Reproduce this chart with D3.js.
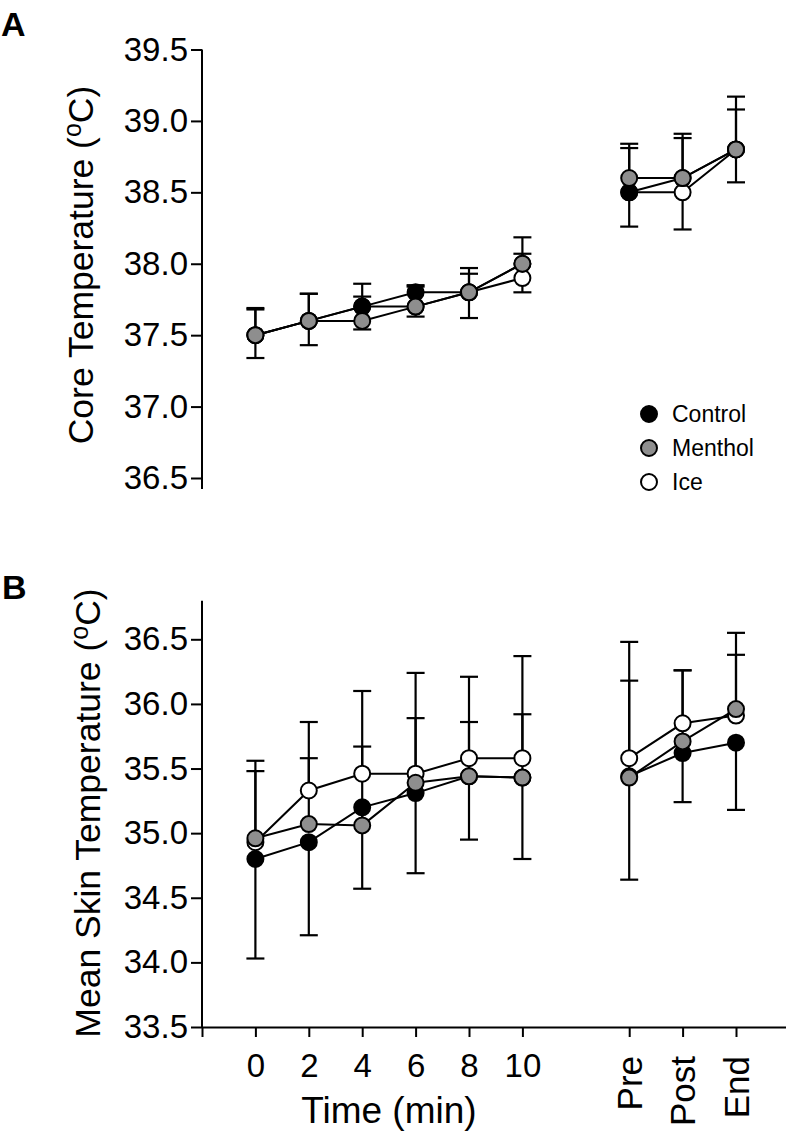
<!DOCTYPE html>
<html><head><meta charset="utf-8">
<script src="https://cdn.jsdelivr.net/npm/d3@7"></script>
<style>
body{margin:0;background:#fff}
svg{display:block}
text{font-family:"Liberation Sans",Arial,Helvetica,sans-serif;fill:#000}
</style>
</head><body>
<svg id="c" width="786" height="1140"></svg>
<script>
// ---- data ----
const timeLabels = ['0','2','4','6','8','10','Pre','Post','End'];
const seriesNames = ['Control','Menthol','Ice'];
const seriesFill = ['#000000','#8e8e8e','#ffffff'];
const errDirection = ['below','above','above'];

const coreTicks = [36.5,37.0,37.5,38.0,38.5,39.0,39.5];
const coreControl    = [37.5,37.6,37.7,37.8,37.8,38.0,38.5,38.6,38.8];
const coreControlSD  = [0.16,0.17,0.16,0.17,0.18,0.20,0.24,0.36,0.23];
const coreMenthol    = [37.5,37.6,37.6,37.7,37.8,38.0,38.6,38.6,38.8];
const coreMentholSD  = [0.19,0.19,0.17,0.14,0.13,0.185,0.21,0.28,0.28];
const coreIce        = [37.5,37.6,37.7,37.7,37.8,37.9,38.5,38.5,38.8];
const coreIceSD      = [0.18,0.19,0.16,0.15,0.17,0.17,0.34,0.41,0.37];

const skinTicks = [33.5,34.0,34.5,35.0,35.5,36.0,36.5];
const skinControl    = [34.80,34.93,35.20,35.31,35.44,35.43,35.44,35.62,35.70];
const skinControlSD  = [0.77,0.72,0.63,0.62,0.49,0.63,0.80,0.38,0.52];
const skinMenthol    = [34.96,35.07,35.06,35.39,35.44,35.43,35.43,35.71,35.96];
const skinMentholSD  = [0.52,0.51,0.61,0.50,0.42,0.49,0.75,0.55,0.42];
const skinIce        = [34.93,35.33,35.46,35.46,35.58,35.58,35.58,35.85,35.91];
const skinIceSD      = [0.63,0.53,0.64,0.78,0.63,0.79,0.90,0.41,0.64];

// ---- layout ----
const svg = d3.select('#c');
const slot = i => (i < 6 ? i : i + 1);           // gap between "10" and "Pre"
const x = d3.scaleLinear().domain([-1, 10]).range([202, 789.4]);
const yA = d3.scaleLinear().domain([36.5, 39.5]).range([478, 49.5]);
const yB = d3.scaleLinear().domain([33.5, 36.5]).range([1027, 639.3]);
const R = 8, CAP = 9;

function drawPanel(y, ticks, means, sds, axisTop, axisBottom) {
  const g = svg.append('g');
  const ax = g.append('g').attr('transform', 'translate(202,0)')
    .call(d3.axisLeft(y).tickValues(ticks).tickSize(11).tickPadding(3).tickFormat(d3.format('.1f')));
  ax.select('.domain').remove();
  ax.selectAll('line').attr('stroke', '#000').attr('stroke-width', 2);
  ax.selectAll('text').attr('font-size', 33).attr('fill', '#000');
  ax.append('line').attr('x1', 0).attr('x2', 0).attr('y1', axisTop).attr('y2', axisBottom)
    .attr('stroke', '#000').attr('stroke-width', 2);

  const order = [2, 0, 1]; // Ice, Control, Menthol drawing order
  order.forEach(s => {
    means[s].forEach((m, i) => {
      const cx = x(slot(i));
      const end = errDirection[s] === 'below' ? m - sds[s][i] : m + sds[s][i];
      g.append('line').attr('x1', cx).attr('x2', cx).attr('y1', y(m)).attr('y2', y(end))
        .attr('stroke', '#000').attr('stroke-width', 2.2);
      g.append('line').attr('x1', cx - CAP).attr('x2', cx + CAP).attr('y1', y(end)).attr('y2', y(end))
        .attr('stroke', '#000').attr('stroke-width', 2.2);
    });
  });
  const line = d3.line().x(d => x(slot(d.i))).y(d => y(d.v));
  order.forEach(s => {
    const pts = means[s].map((v, i) => ({ i, v }));
    [pts.slice(0, 6), pts.slice(6)].forEach(seg => {
      g.append('path').attr('d', line(seg)).attr('fill', 'none')
        .attr('stroke', '#000').attr('stroke-width', 2);
    });
  });
  order.forEach(s => {
    g.append('g').selectAll('circle').data(means[s]).join('circle')
      .attr('cx', (d, i) => x(slot(i))).attr('cy', d => y(d)).attr('r', R)
      .attr('fill', seriesFill[s]).attr('stroke', '#000').attr('stroke-width', 2);
  });
  return g;
}

drawPanel(yA, coreTicks, [coreControl, coreMenthol, coreIce], [coreControlSD, coreMentholSD, coreIceSD], 49.5, 489);
drawPanel(yB, skinTicks, [skinControl, skinMenthol, skinIce], [skinControlSD, skinMentholSD, skinIceSD], 600.7, 1027);

// x axis (panel B)
const xa = svg.append('g').attr('transform', 'translate(0,1027)')
  .call(d3.axisBottom(x).tickValues([-1, 0, 1, 2, 3, 4, 5, 7, 8, 9]).tickSize(10).tickSizeOuter(0)
    .tickFormat(v => v < 0 ? '' : timeLabels[v < 6 ? v : v - 1]));
xa.select('.domain').attr('stroke', '#000').attr('stroke-width', 2);
xa.selectAll('line').attr('stroke', '#000').attr('stroke-width', 2);
xa.selectAll('text').attr('font-size', 33).attr('fill', '#000').attr('y', 50).attr('dy', 0);
xa.selectAll('.tick').filter(d => d >= 7).select('text')
  .attr('font-size', 35)
  .attr('text-anchor', 'end').attr('x', 0).attr('y', 0).attr('dy', 0)
  .attr('transform', 'translate(12,29) rotate(-90)');

// axis titles
function yTitle(txt, bx, cy) {
  const t = svg.append('text').attr('transform', `translate(${bx},${cy}) rotate(-90)`)
    .attr('text-anchor', 'middle').attr('font-size', 35.5);
  t.append('tspan').text(txt + ' (');
  t.append('tspan').text('o').attr('font-size', 25).attr('dy', -12);
  t.append('tspan').text('C)').attr('dy', 12);
}
yTitle('Core Temperature', 93, 265);
yTitle('Mean Skin Temperature', 100, 813);

svg.append('text').attr('x', x(2.5)).attr('y', 1123).attr('text-anchor', 'middle')
  .attr('font-size', 37).text('Time (min)');

// panel letters
svg.append('text').attr('x', 1).attr('y', 36).attr('font-size', 34).attr('font-weight', 'bold').text('A');
svg.append('text').attr('x', 2).attr('y', 599).attr('font-size', 34).attr('font-weight', 'bold').text('B');

// legend
const lg = svg.append('g');
seriesNames.forEach((n, i) => {
  const cy = 414 + i * 34;
  lg.append('circle').attr('cx', 649).attr('cy', cy).attr('r', R)
    .attr('fill', seriesFill[i]).attr('stroke', '#000').attr('stroke-width', 2);
  lg.append('text').attr('x', 672).attr('y', cy + 8).attr('font-size', 23).text(n);
});
</script>
</body></html>
